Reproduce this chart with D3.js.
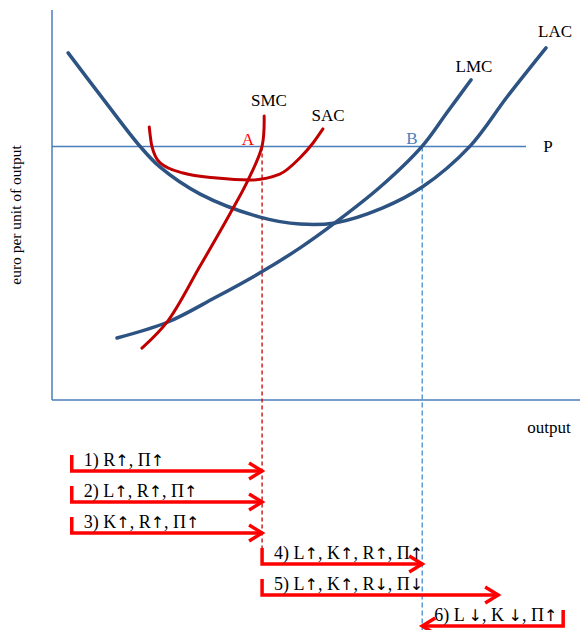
<!DOCTYPE html>
<html><head><meta charset="utf-8">
<script src="https://cdn.jsdelivr.net/npm/d3@7"></script>
<style>body{margin:0;background:#fff}svg{display:block}text{font-family:"Liberation Serif","Times New Roman",serif}</style>
</head><body>
<script>
// Curves in data units (output, euro per unit of output)
const LAC = [[3.1,89.0],[10.0,76.9],[16.9,65.1],[20.8,59.7],[28.5,52.8],[40.0,46.9],[47.7,45.1],[54.4,45.4],[63.5,49.2],[71.2,54.6],[80.4,65.1],[87.5,77.7],[95.0,90.3]];
const LMC = [[12.5,15.9],[22.3,20.0],[31.3,26.2],[40.0,32.6],[47.7,39.0],[54.4,45.4],[63.1,54.6],[71.2,65.1],[76.0,73.8],[80.6,82.1]];
const SAC = [[18.7,70.0],[19.2,65.1],[20.8,60.8],[25.2,58.2],[31.7,56.9],[38.1,56.4],[43.8,57.9],[47.7,62.1],[50.2,65.9],[52.1,69.5]];
const SMC = [[17.3,13.3],[22.3,20.3],[28.5,34.4],[34.2,47.7],[37.7,56.4],[40.4,65.1],[40.8,72.8]];
const price = 65;
const qA = 40.4, qB = 71.2;
const arrowLabels = ["1) R↑, Π↑","2) L↑, R↑, Π↑","3) K↑, R↑, Π↑","4) L↑, K↑, R↑, Π↑","5) L↑, K↑, R↓, Π↓","6) L ↓, K ↓, Π↑"];
const arrowFrom = [3.8,3.8,3.8,40.4,40.4,98.3];
const arrowTo   = [40.4,40.4,40.4,71.2,85.8,71.2];

const W=580,H=630;
const svg=d3.select("body").append("svg").attr("width",W).attr("height",H);
const x=d3.scaleLinear().domain([0,100]).range([52,572]);
const y=d3.scaleLinear().domain([0,100]).range([400,10]);
const axisCol="#4a7ebb", blue="#2d5383", red="#c00000", bright="#ff0000";

// axes
svg.append("line").attr("x1",x(0)).attr("x2",x(0)).attr("y1",y(100)).attr("y2",y(0)).attr("stroke",axisCol).attr("stroke-width",1.5);
svg.append("line").attr("x1",x(0)).attr("x2",W).attr("y1",y(0)).attr("y2",y(0)).attr("stroke",axisCol).attr("stroke-width",1.5);
// price line
svg.append("line").attr("x1",x(0)).attr("x2",526).attr("y1",y(price)).attr("y2",y(price)).attr("stroke",axisCol).attr("stroke-width",1.5);

const rowY=d3.scalePoint().domain(arrowLabels).range([471,626]);

// dashed verticals
svg.append("line").attr("x1",x(qA)).attr("x2",x(qA)).attr("y1",y(price)).attr("y2",rowY(arrowLabels[3])-15)
  .attr("stroke",red).attr("stroke-width",1.3).attr("stroke-dasharray","4,3");
svg.append("line").attr("x1",x(qB)).attr("x2",x(qB)).attr("y1",y(price)).attr("y2",H)
  .attr("stroke","#5b9bd5").attr("stroke-width",1.5).attr("stroke-dasharray","5,3");

const lineC=d3.line().x(d=>x(d[0])).y(d=>y(d[1])).curve(d3.curveCatmullRom.alpha(0.5));
const lineX=d3.line().x(d=>x(d[0])).y(d=>y(d[1])).curve(d3.curveMonotoneX);
[[LAC,blue,3.5,lineC],[LMC,blue,3.5,lineC],[SAC,red,3,lineX],[SMC,red,3,lineC]].forEach(([d,c,w,gen])=>{
  svg.append("path").attr("d",gen(d)).attr("fill","none").attr("stroke",c).attr("stroke-width",w).attr("stroke-linecap","round");
});

function lbl(t,px,py,col,anchor){svg.append("text").attr("x",px).attr("y",py).attr("font-size",17).attr("fill",col||"#000").attr("text-anchor",anchor||"middle").text(t);}
lbl("SMC",269,106);
lbl("SAC",328,121);
lbl("LMC",474,72);
lbl("LAC",555,37);
lbl("P",548,152);
lbl("A",248,145,bright);
lbl("B",412,144,axisCol);
lbl("output",549,433);
svg.append("text").attr("transform","translate(21,215) rotate(-90)").attr("text-anchor","middle").attr("font-size",15.5).text("euro per unit of output");

// arrows
arrowLabels.forEach((t,i)=>{
  const ry=rowY(t), x0=x(arrowFrom[i]), x1=x(arrowTo[i]);
  const dir=x1>x0?1:-1;
  svg.append("path").attr("d",`M${x0},${ry-16}V${ry}H${x1}`).attr("fill","none").attr("stroke",bright).attr("stroke-width",3.5);
  svg.append("path").attr("d",`M${x1-dir*13},${ry-8}L${x1},${ry}L${x1-dir*13},${ry+8}`).attr("fill","none").attr("stroke",bright).attr("stroke-width",3.5).attr("stroke-linejoin","miter");
  const tx=svg.append("text").attr("x",Math.min(x0,x1)+12).attr("y",ry-5).attr("font-size",18).attr("fill","#000");
  t.split(/([↑↓])/).forEach(part=>{
    if(!part) return;
    const sp=tx.append("tspan").text(part);
    if(part==="↑"||part==="↓") sp.attr("font-family","DejaVu Sans").attr("font-size",16);
  });
});
</script>
</body></html>
